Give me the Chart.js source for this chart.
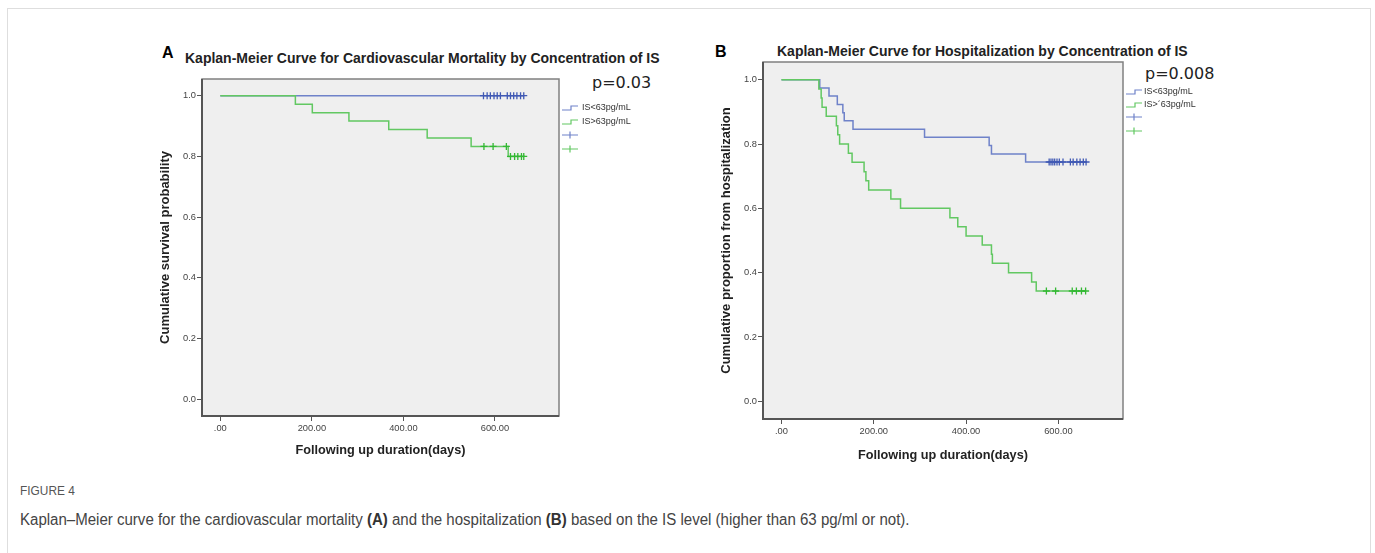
<!DOCTYPE html>
<html><head><meta charset="utf-8">
<script src="https://cdn.jsdelivr.net/npm/chart.js@4.4.1/dist/chart.umd.min.js"></script>
<style>
html,body{margin:0;padding:0;background:#fff;width:1375px;height:553px;overflow:hidden;font-family:"Liberation Sans",Arial,sans-serif;}
#box{position:absolute;left:7px;top:8px;width:1362px;height:560px;border:1px solid #dedede;}
.abs{position:absolute;white-space:nowrap;line-height:1;}
.letter{font-weight:bold;font-size:16px;color:#000;}
.ttl{font-weight:bold;font-size:14px;color:#222;}
.pv{font-family:"DejaVu Sans",sans-serif;font-size:16px;color:#222;}
canvas{position:absolute;}
#fig{left:20px;top:484px;font-family:"Liberation Sans",sans-serif;font-size:13.5px;color:#555;transform:scaleX(0.88);transform-origin:0 0;}
#cap{left:20px;top:512px;font-family:"Liberation Sans",sans-serif;font-size:16px;color:#444;transform:scaleX(0.94);transform-origin:0 0;}
#cap b{color:#333;}
</style></head>
<body>
<div id="box"></div>
<div class="abs letter" style="left:162px;top:45px;">A</div>
<div class="abs ttl" style="left:185px;top:51px;">Kaplan-Meier Curve for Cardiovascular Mortality by Concentration of IS</div>
<div class="abs pv" style="left:592px;top:75px;">p=0.03</div>
<div class="abs letter" style="left:715px;top:44px;">B</div>
<div class="abs ttl" style="left:777px;top:43.5px;">Kaplan-Meier Curve for Hospitalization by Concentration of IS</div>
<div class="abs pv" style="left:1145px;top:66px;">p=0.008</div>
<canvas id="cA" width="520" height="410" style="left:140px;top:60px;"></canvas>
<canvas id="cB" width="520" height="425" style="left:700px;top:45px;"></canvas>
<div class="abs" id="fig">FIGURE 4</div>
<div class="abs" id="cap">Kaplan–Meier curve for the cardiovascular mortality <b>(A)</b> and the hospitalization <b>(B)</b> based on the IS level (higher than 63 pg/ml or not).</div>
<script>
// ---- Data ----
const xTickValues = [0, 200, 400, 600];
const xTickLabels = ['.00', '200.00', '400.00', '600.00'];
const yTickValues = [0, 0.2, 0.4, 0.6, 0.8, 1.0];
const yTickLabels = ['0.0', '0.2', '0.4', '0.6', '0.8', '1.0'];
const namesA = ['IS<63pg/mL', 'IS>63pg/mL'];
const namesB = ['IS<63pg/mL', 'IS>´63pg/mL'];

// Panel A: cardiovascular mortality
const aLowTimes = [0, 664];
const aLowSurv = [1, 1];
const aLowCensor = [575, 583, 590, 598, 605, 612, 627, 634, 641, 648, 656, 663];
const aHighTimes = [0, 164, 201, 281, 368, 452, 548, 629, 664];
const aHighSurv = [1, 0.972, 0.944, 0.917, 0.889, 0.861, 0.833, 0.800, 0.800];
const aHighCensor = [576, 596, 625, 634, 643, 650, 658, 663];

// Panel B: hospitalization
const bLowTimes = [0, 83, 103, 121, 133, 136, 155, 310, 450, 455, 529, 661];
const bLowSurv = [1, 0.974, 0.949, 0.923, 0.897, 0.872, 0.846, 0.821, 0.795, 0.769, 0.744, 0.744];
const bLowCensor = [580, 584, 588, 592, 597, 602, 610, 626, 632, 640, 647, 654, 660];
const bHighTimes = [0, 81, 86, 88, 97, 119, 122, 126, 145, 153, 179, 183, 189, 237, 258, 365, 382, 400, 435, 455, 457, 492, 542, 552, 660];
const bHighSurv = [1, 0.971, 0.943, 0.914, 0.886, 0.857, 0.829, 0.800, 0.771, 0.743, 0.714, 0.686, 0.657, 0.629, 0.600, 0.571, 0.543, 0.514, 0.486, 0.457, 0.429, 0.400, 0.371, 0.343, 0.343];
const bHighCensor = [574, 594, 630, 639, 650, 659];

// ---- Styles ----
const BLUE = '#6f82c9', GREEN = '#62c862', BLUE_M = '#4059b4', GREEN_M = '#33b833';
const FONT = "'Liberation Sans', Arial, sans-serif";

function pts(times, surv) { return times.map((t, i) => ({x: t, y: surv[i]})); }
function survAt(times, surv, t) { let v = surv[0]; for (let i = 0; i < times.length; i++) { if (times[i] <= t) v = surv[i]; } return v; }
function censorPts(c, times, surv) { return c.map(t => ({x: t, y: survAt(times, surv, t)})); }

const kmFrame = {
  id: 'kmFrame',
  beforeDraw(chart) {
    const {ctx, chartArea: a} = chart;
    ctx.save(); ctx.fillStyle = '#efefef'; ctx.fillRect(a.left, a.top, a.right - a.left, a.bottom - a.top); ctx.restore();
  },
  afterDatasetsDraw(chart) {
    const {ctx, chartArea: a} = chart;
    ctx.save();
    ctx.strokeStyle = '#808080'; ctx.lineWidth = 1.5;
    ctx.strokeRect(a.left, a.top, a.right - a.left, a.bottom - a.top);
    ctx.strokeStyle = '#555'; ctx.lineWidth = 2;
    ctx.beginPath(); ctx.moveTo(a.left, a.top); ctx.lineTo(a.left, a.bottom); ctx.lineTo(a.right, a.bottom); ctx.stroke();
    ctx.restore();
  },
  afterDraw(chart, args, opts) {
    const {ctx, chartArea: a} = chart;
    ctx.save();
    ctx.font = "9px " + FONT; ctx.textBaseline = 'middle'; ctx.fillStyle = '#333';
    opts.rows.forEach((r, i) => {
      const y = a.top + opts.rowY[i];
      const x0 = a.right + 3, x1 = a.right + 19;
      ctx.strokeStyle = r.color; ctx.lineWidth = 1.2;
      ctx.beginPath();
      if (r.type === 'step') {
        ctx.moveTo(x0, y + 2); ctx.lineTo(x0 + 9, y + 2); ctx.lineTo(x0 + 9, y - 2); ctx.lineTo(x1, y - 2);
      } else {
        ctx.moveTo(x0, y); ctx.lineTo(x1, y); ctx.moveTo(x0 + 8, y - 3.5); ctx.lineTo(x0 + 8, y + 3.5);
      }
      ctx.stroke();
      if (r.text) ctx.fillText(r.text, a.right + opts.textOff, y);
    });
    ctx.restore();
  }
};

function makeChart(id, cfg) {
  const datasets = [
    {data: pts(cfg.hiT, cfg.hiS), borderColor: GREEN, order: 2},
    {data: pts(cfg.loT, cfg.loS), borderColor: BLUE, order: 3},
    {data: censorPts(cfg.hiC, cfg.hiT, cfg.hiS), borderColor: GREEN_M, showLine: false, pointStyle: 'cross', pointRadius: 3.5, pointBorderWidth: 1.3, order: 0},
    {data: censorPts(cfg.loC, cfg.loT, cfg.loS), borderColor: BLUE_M, showLine: false, pointStyle: 'cross', pointRadius: 3.5, pointBorderWidth: 1.3, order: 1}
  ].map(d => Object.assign({stepped: true, borderWidth: 1.5, pointRadius: 0, fill: false, pointHoverRadius: 0}, d));
  return new Chart(document.getElementById(id), {
    type: 'line',
    data: {datasets},
    plugins: [kmFrame],
    options: {
      responsive: false, animation: false, devicePixelRatio: 1,
      layout: {padding: {top: cfg.padTop, right: cfg.padRight, left: 0, bottom: 0}},
      plugins: {legend: {display: false}, tooltip: {enabled: false}, title: {display: false},
        kmFrame: {rows: [
          {type: 'step', color: BLUE, text: cfg.names[0]},
          {type: 'step', color: GREEN, text: cfg.names[1]},
          {type: 'cross', color: BLUE},
          {type: 'cross', color: GREEN}], rowY: cfg.rowY, textOff: cfg.textOff}},
      scales: {
        x: {type: 'linear', min: -40, max: 740,
          afterBuildTicks: s => { s.ticks = xTickValues.map(v => ({value: v})); },
          afterFit: s => { s.height = cfg.xH; },
          ticks: {autoSkip: false, maxRotation: 0, padding: 2, color: '#444', font: {family: FONT, size: 9.3},
            callback: (v, i) => xTickLabels[i]},
          grid: {drawOnChartArea: false, drawTicks: true, tickLength: 5, color: '#555', lineWidth: 1},
          border: {display: false},
          title: {display: true, text: 'Following up duration(days)', color: '#222', font: {family: FONT, size: 12.7, weight: 'bold'}, padding: {top: 0, bottom: cfg.xTitlePad}}},
        y: {type: 'linear', min: -0.055, max: 1.055,
          afterBuildTicks: s => { s.ticks = yTickValues.map(v => ({value: v})); },
          afterFit: s => { s.width = cfg.yW; },
          ticks: {autoSkip: false, padding: 1, color: '#444', font: {family: FONT, size: 9.3},
            callback: (v, i) => yTickLabels[i]},
          grid: {drawOnChartArea: false, drawTicks: true, tickLength: 5, color: '#555', lineWidth: 1},
          border: {display: false},
          title: {display: true, text: cfg.yTitle, color: '#222', font: {family: FONT, size: 13, weight: 'bold'}, padding: {top: cfg.yTitlePad, bottom: 0}}}
      }
    }
  });
}

makeChart('cA', {loT: aLowTimes, loS: aLowSurv, loC: aLowCensor, hiT: aHighTimes, hiS: aHighSurv, hiC: aHighCensor,
  names: namesA, yTitle: 'Cumulative survival probability',
  padTop: 19, padRight: 101, yW: 62, xH: 54, xTitlePad: 12, yTitlePad: 18,
  rowY: [29, 43, 56, 70], textOff: 23});
makeChart('cB', {loT: bLowTimes, loS: bLowSurv, loC: bLowCensor, hiT: bHighTimes, hiS: bHighSurv, hiC: bHighCensor,
  names: namesB, yTitle: 'Cumulative proportion from hospitalization',
  padTop: 17, padRight: 97, yW: 63, xH: 51, xTitlePad: 7, yTitlePad: 19,
  rowY: [30, 43, 55, 69], textOff: 21});
</script>
</body></html>
